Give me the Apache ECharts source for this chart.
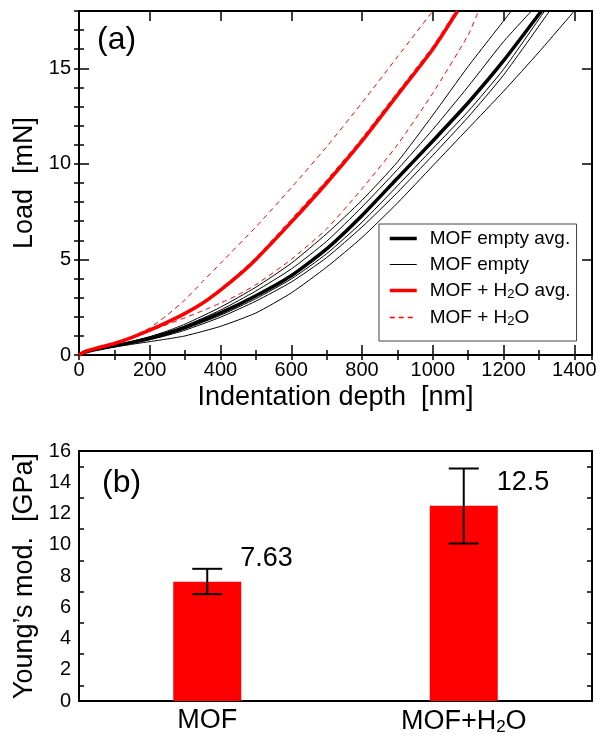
<!DOCTYPE html>
<html>
<head>
<meta charset="utf-8">
<script src="https://cdn.jsdelivr.net/npm/echarts@6/dist/echarts.min.js"></script>
<style>
  html, body { margin: 0; padding: 0; background: #fff; }
  #main { width: 600px; height: 736px; }
</style>
</head>
<body>
<div id="main"></div>
<script>
// (a) load vs indentation depth, points are [depth nm, load mN]
const mofAvg = [[0,0],[20,0.17],[50,0.3],[100,0.48],[150,0.66],[200,0.88],[250,1.14],[300,1.45],[400,2.2],[500,3.1],[600,4.15],[700,5.55],[800,7.3],[900,9.25],[1000,11.2],[1100,13.2],[1200,15.4],[1307,18]]
const mofRun1 = [[0,0],[20,0.18],[50,0.32],[100,0.52],[150,0.72],[200,0.96],[250,1.26],[300,1.62],[400,2.5],[500,3.55],[600,4.8],[700,6.35],[800,8.1],[900,10.1],[1000,12.55],[1100,15.1],[1222,18]]
const mofRun2 = [[0,0],[20,0.18],[50,0.31],[100,0.5],[150,0.69],[200,0.92],[250,1.2],[300,1.53],[400,2.35],[500,3.35],[600,4.5],[700,5.95],[800,7.75],[900,9.7],[1000,11.8],[1100,14.05],[1200,16.4],[1279,18]]
const mofRun3 = [[0,0],[20,0.17],[50,0.29],[100,0.47],[150,0.64],[200,0.84],[250,1.08],[300,1.37],[400,2.08],[500,2.95],[600,3.98],[700,5.3],[800,6.95],[900,8.85],[1000,10.8],[1100,12.75],[1200,14.95],[1316,18]]
const mofRun4 = [[0,0],[20,0.16],[50,0.28],[100,0.45],[150,0.61],[200,0.8],[250,1.03],[300,1.3],[400,1.98],[500,2.82],[600,3.82],[700,5.1],[800,6.7],[900,8.5],[1000,10.45],[1100,12.45],[1200,14.65],[1330,18]]
const mofRun5 = [[0,0],[20,0.15],[50,0.26],[100,0.42],[150,0.56],[200,0.7],[250,0.84],[300,1.0],[400,1.5],[500,2.2],[600,3.25],[700,4.6],[800,6.15],[900,7.95],[1000,9.9],[1100,11.85],[1200,13.8],[1300,15.85],[1400,18]]
const h2oAvg = [[0,0],[20,0.2],[50,0.36],[100,0.6],[150,0.92],[200,1.3],[250,1.72],[300,2.18],[350,2.72],[400,3.4],[450,4.15],[500,5.0],[600,6.95],[700,9.0],[800,11.2],[900,13.6],[1000,16.0],[1070,18]]
const h2oRun1 = [[0,0],[20,0.2],[50,0.36],[100,0.62],[150,0.96],[200,1.42],[250,2.1],[300,2.9],[350,3.85],[400,4.8],[500,6.7],[600,8.75],[700,10.9],[800,13.2],[900,15.6],[1000,18]]
const h2oRun2 = [[0,0],[20,0.2],[50,0.37],[100,0.62],[150,0.93],[200,1.32],[250,1.75],[300,2.22],[350,2.78],[400,3.48],[450,4.25],[500,5.1],[600,7.1],[700,9.15],[800,11.35],[900,13.75],[1000,16.15],[1065,18]]
const h2oRun3 = [[0,0],[20,0.19],[50,0.34],[100,0.58],[150,0.88],[200,1.25],[250,1.6],[300,1.95],[350,2.32],[400,2.72],[450,3.15],[500,3.68],[600,5.0],[700,6.6],[800,8.7],[900,11.0],[1000,13.7],[1100,16.75],[1129,18]]

const mofRuns = [mofRun1, mofRun2, mofRun3, mofRun4, mofRun5]
const h2oRuns = [h2oRun1, h2oRun2, h2oRun3]

// (b) Young's modulus
const barCats = ['MOF', 'MOF+H2O']
const modulus = [7.63, 12.5]
const errLow = [6.84, 10.08]
const errHigh = [8.46, 14.88]
const barLabels = ['7.63', '12.5']

const FONT = 'Liberation Sans, Arial, Helvetica, sans-serif'
const subName = name => name.replace('H2O', 'H{sub|2}O')

const chart = echarts.init(document.getElementById('main'))

const frameLine = { show: true, onZero: false, lineStyle: { color: '#000', width: 2 } }
const noLabel = { show: false }
const plainNum = v => String(v)
const SMOOTH = 0.2

const avgBlack = { color: '#000', width: 3.5 }
const runBlack = { color: '#000', width: 1 }
const avgRed = { color: '#ff0000', width: 3.5 }
const runRed = { color: '#ff0000', width: 1, type: [5, 4] }

let series = []
series.push({
    name: 'MOF empty avg.', type: 'line', xAxisIndex: 0, yAxisIndex: 0,
    symbol: 'none', smooth: SMOOTH, z: 4,
    lineStyle: avgBlack, itemStyle: { color: '#000' },
    data: mofAvg
})
mofRuns.forEach(run => {
    series.push({
        name: 'MOF empty', type: 'line', xAxisIndex: 0, yAxisIndex: 0,
        symbol: 'none', smooth: SMOOTH, z: 3,
        lineStyle: runBlack, itemStyle: { color: '#000' },
        data: run
    })
})
series.push({
    name: 'MOF + H2O avg.', type: 'line', xAxisIndex: 0, yAxisIndex: 0,
    symbol: 'none', smooth: SMOOTH, z: 4,
    lineStyle: avgRed, itemStyle: { color: '#ff0000' },
    data: h2oAvg
})
h2oRuns.forEach(run => {
    series.push({
        name: 'MOF + H2O', type: 'line', xAxisIndex: 0, yAxisIndex: 0,
        symbol: 'none', smooth: SMOOTH, z: 5,
        lineStyle: runRed, itemStyle: { color: '#ff0000' },
        data: run
    })
})
series.push({
    type: 'bar', xAxisIndex: 4, yAxisIndex: 4,
    barWidth: 68, itemStyle: { color: '#ff0000' },
    data: modulus
})
series.push({
    type: 'custom', xAxisIndex: 4, yAxisIndex: 4, z: 10,
    data: barCats.map((c, i) => [i, errLow[i], errHigh[i], modulus[i]]),
    encode: { x: 0, y: [1, 2] },
    renderItem: function (params, api) {
        const i = api.value(0)
        const lo = api.coord([i, api.value(1)])
        const hi = api.coord([i, api.value(2)])
        const top = api.coord([i, api.value(3)])
        const st = { stroke: '#000', lineWidth: 2 }
        const cap = 15
        return {
            type: 'group',
            children: [
                { type: 'line', shape: { x1: lo[0], y1: lo[1], x2: hi[0], y2: hi[1] }, style: st },
                { type: 'line', shape: { x1: lo[0] - cap, y1: lo[1], x2: lo[0] + cap, y2: lo[1] }, style: st },
                { type: 'line', shape: { x1: hi[0] - cap, y1: hi[1], x2: hi[0] + cap, y2: hi[1] }, style: st },
                { type: 'text', x: top[0] + 33, y: top[1] - 23,
                  style: { text: barLabels[i], fill: '#000', fontSize: 27, fontFamily: FONT,
                           align: 'left', verticalAlign: 'middle' } }
            ]
        }
    }
})

const option = {
    backgroundColor: '#fff',
    animation: false,
    textStyle: { fontFamily: FONT, color: '#000' },
    grid: [
        { left: 79, top: 11, width: 513, height: 344 },
        { left: 79, top: 11, width: 513, height: 344 },
        { left: 79, top: 451, width: 513, height: 250 }
    ],
    legend: {
        orient: 'vertical', left: 379, top: 224,
        padding: [5, 6, 13, 9], itemGap: 7, itemWidth: 27, itemHeight: 5,
        borderColor: '#444', borderWidth: 1,
        itemStyle: { opacity: 0 },
        data: [
            { name: 'MOF empty avg.', lineStyle: avgBlack },
            { name: 'MOF empty', lineStyle: runBlack },
            { name: 'MOF + H2O avg.', lineStyle: avgRed },
            { name: 'MOF + H2O', lineStyle: { color: '#ff0000', width: 1.5, type: [5, 4] } }
        ],
        formatter: subName,
        textStyle: {
            fontSize: 19, fontFamily: FONT, color: '#000', padding: [0, 0, 0, 8],
            rich: { sub: { fontSize: 13, fontFamily: FONT, padding: [8, 0, 0, 0] } }
        }
    },
    graphic: [
        { type: 'text', left: 97, top: 24, style: { text: '(a)', fontSize: 32, fontFamily: FONT, fill: '#000' } },
        { type: 'text', left: 102, top: 467, style: { text: '(b)', fontSize: 32, fontFamily: FONT, fill: '#000' } }
    ],
    xAxis: [
        { gridIndex: 0, type: 'value', position: 'bottom', min: 0, max: 1450, interval: 200,
          name: 'Indentation depth  [nm]', nameLocation: 'middle', nameGap: 29,
          nameTextStyle: { fontSize: 27, fontFamily: FONT, color: '#000' },
          axisLine: frameLine, splitLine: { show: false },
          axisTick: { inside: true, length: 10, lineStyle: { color: '#000', width: 1.5 } },
          axisLabel: { fontSize: 20, color: '#000', margin: 5, showMaxLabel: false, formatter: plainNum } },
        { gridIndex: 0, type: 'value', position: 'top', min: 0, max: 1450, interval: 200,
          axisLine: frameLine, splitLine: { show: false }, axisLabel: noLabel,
          axisTick: { inside: true, length: 10, lineStyle: { color: '#000', width: 1.5 } } },
        { gridIndex: 1, type: 'value', position: 'bottom', min: 0, max: 1450, interval: 100,
          axisLine: { show: false }, splitLine: { show: false }, axisLabel: noLabel,
          axisTick: { inside: true, length: 5, lineStyle: { color: '#000', width: 1.5 } } },
        { gridIndex: 1, type: 'value', position: 'top', min: 0, max: 1450, interval: 100,
          axisLine: { show: false }, splitLine: { show: false }, axisLabel: noLabel,
          axisTick: { inside: true, length: 5, lineStyle: { color: '#000', width: 1.5 } } },
        { gridIndex: 2, type: 'category', position: 'bottom', data: barCats,
          axisLine: frameLine, axisTick: { show: false },
          axisLabel: { fontSize: 27, color: '#000', margin: 6, interval: 0, formatter: subName,
                       rich: { sub: { fontSize: 17, fontFamily: FONT, padding: [12, 0, 0, 0] } } } },
        { gridIndex: 2, type: 'category', position: 'top', data: barCats,
          axisLine: frameLine, axisTick: { show: false }, axisLabel: noLabel }
    ],
    yAxis: [
        { gridIndex: 0, type: 'value', position: 'left', min: 0, max: 18, interval: 5,
          name: 'Load  [mN]', nameLocation: 'middle', nameGap: 34,
          nameTextStyle: { fontSize: 27, fontFamily: FONT, color: '#000' },
          axisLine: frameLine, splitLine: { show: false },
          axisTick: { inside: true, length: 10, lineStyle: { color: '#000', width: 1.5 } },
          axisLabel: { fontSize: 20, color: '#000', margin: 8, showMaxLabel: false } },
        { gridIndex: 0, type: 'value', position: 'right', min: 0, max: 18, interval: 5,
          axisLine: frameLine, splitLine: { show: false }, axisLabel: noLabel,
          axisTick: { inside: true, length: 10, lineStyle: { color: '#000', width: 1.5 } } },
        { gridIndex: 1, type: 'value', position: 'left', min: 0, max: 18, interval: 1,
          axisLine: { show: false }, splitLine: { show: false }, axisLabel: noLabel,
          axisTick: { inside: true, length: 5, lineStyle: { color: '#000', width: 1.5 } } },
        { gridIndex: 1, type: 'value', position: 'right', min: 0, max: 18, interval: 1,
          axisLine: { show: false }, splitLine: { show: false }, axisLabel: noLabel,
          axisTick: { inside: true, length: 5, lineStyle: { color: '#000', width: 1.5 } } },
        { gridIndex: 2, type: 'value', position: 'left', min: 0, max: 16, interval: 2,
          name: 'Young\u2019s mod.  [GPa]', nameLocation: 'middle', nameGap: 37,
          nameTextStyle: { fontSize: 27, fontFamily: FONT, color: '#000' },
          axisLine: frameLine, splitLine: { show: false },
          axisTick: { inside: true, length: 10, lineStyle: { color: '#000', width: 1.5 } },
          minorTick: { show: true, splitNumber: 2, length: 5, lineStyle: { color: '#000', width: 1.5 } },
          minorSplitLine: { show: false },
          axisLabel: { fontSize: 20, color: '#000', margin: 8 } },
        { gridIndex: 2, type: 'value', position: 'right', min: 0, max: 16, interval: 2,
          axisLine: frameLine, splitLine: { show: false }, axisLabel: noLabel,
          axisTick: { inside: true, length: 10, lineStyle: { color: '#000', width: 1.5 } },
          minorTick: { show: true, splitNumber: 2, length: 5, lineStyle: { color: '#000', width: 1.5 } } }
    ],
    series: series
}

chart.setOption(option)
</script>
</body>
</html>
